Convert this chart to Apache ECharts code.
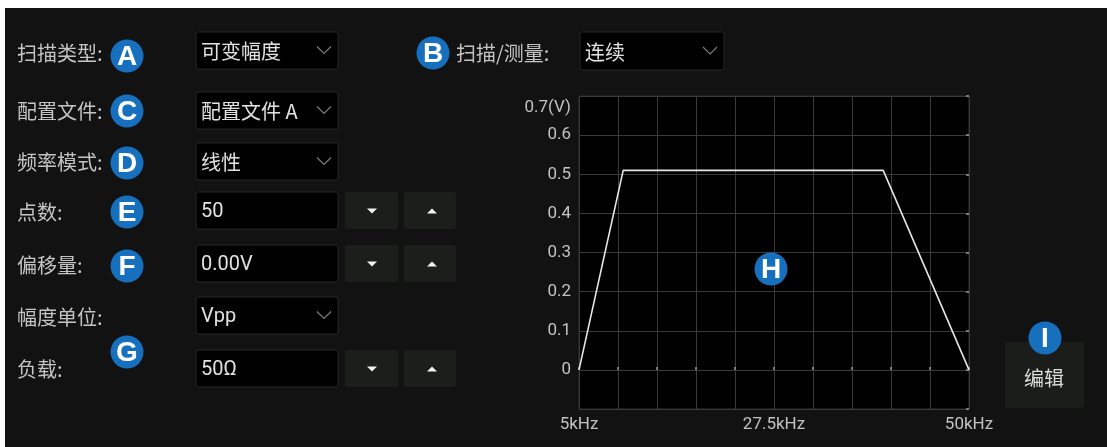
<!DOCTYPE html>
<html>
<head>
<meta charset="utf-8">
<script src="https://cdn.jsdelivr.net/npm/echarts@6/dist/echarts.min.js"></script>
<style>
html,body{margin:0;padding:0;background:#ffffff;}
#c{width:1107px;height:447px;}
</style>
</head>
<body>
<div id="c"></div>
<script>
// ---- chart data ----
const freqKHz   = [5, 10.1, 40.1, 50];
const amplitude = [0, 0.51, 0.51, 0];
const xTickValues = [5, 27.5, 50];
const xTickLabels = ['5kHz', '27.5kHz', '50kHz'];
const yTickLabels = ['0', '0.1', '0.2', '0.3', '0.4', '0.5', '0.6', '0.7(V)'];

// ---- UI texts ----
const formLabels = ['扫描类型:', '配置文件:', '频率模式:', '点数:', '偏移量:', '幅度单位:', '负载:'];
const formValues = ['可变幅度', '配置文件 A', '线性', '50', '0.00V', 'Vpp', '50Ω'];
const sweepLabel = '扫描/测量:';
const sweepValue = '连续';
const editLabel = '编辑';
const markerLetters = ['A', 'B', 'C', 'D', 'E', 'F', 'G', 'H', 'I'];

const CJK = '"Noto Sans CJK SC", "Noto Sans", sans-serif';
const LAT = 'Roboto, "Noto Sans CJK SC", sans-serif';

const chart = echarts.init(document.getElementById('c'), null, {renderer: 'canvas'});

const g = [];
// panel background
g.push({type: 'rect', z: -10, shape: {x: 5, y: 8, width: 1102, height: 439}, style: {fill: '#121212'}, silent: true});

// rows layout
const labelY = [53, 111, 162, 212, 265, 317, 369];
const boxTop = [32, 92, 143, 192, 245, 297, 350];
const boxH = 37;
const dropdownRows = [0, 1, 2, 5];
const stepperRows = [3, 4, 6];
const latinRows = [3, 4, 5, 6];

formLabels.forEach((t, i) => {
  g.push({type: 'text', x: 17, y: labelY[i], style: {text: t, fill: '#c4c4c4', fontSize: 20, fontFamily: CJK, align: 'left', verticalAlign: 'middle'}});
  const y0 = boxTop[i];
  g.push({type: 'rect', shape: {x: 196, y: y0, width: 142, height: boxH, r: 2}, style: {fill: '#000', stroke: '#262626', lineWidth: 1}});
  g.push({type: 'text', x: 201, y: y0 + boxH / 2 + 1, style: {text: formValues[i], fill: '#e2e2e2', fontSize: 20, fontFamily: latinRows.indexOf(i) >= 0 ? LAT : CJK, align: 'left', verticalAlign: 'middle'}});
  if (dropdownRows.indexOf(i) >= 0) {
    const cy = y0 + boxH / 2;
    g.push({type: 'polyline', shape: {points: [[317, cy - 4], [324, cy + 3], [331, cy - 4]]}, style: {stroke: '#7a7a7a', lineWidth: 1.2, fill: null}});
  }
  if (stepperRows.indexOf(i) >= 0) {
    const cy = y0 + boxH / 2;
    g.push({type: 'rect', shape: {x: 345, y: y0, width: 53, height: boxH, r: 2}, style: {fill: '#1c1e1c'}});
    g.push({type: 'rect', shape: {x: 404, y: y0, width: 52, height: boxH, r: 2}, style: {fill: '#1c1e1c'}});
    g.push({type: 'polygon', shape: {points: [[367, cy - 2], [377, cy - 2], [372, cy + 3]]}, style: {fill: '#f2f2f2'}});
    g.push({type: 'polygon', shape: {points: [[427, cy + 3], [437, cy + 3], [432, cy - 2]]}, style: {fill: '#f2f2f2'}});
  }
});

// sweep/measure
g.push({type: 'text', x: 456, y: 53, style: {text: sweepLabel, fill: '#c4c4c4', fontSize: 20, fontFamily: CJK, align: 'left', verticalAlign: 'middle'}});
g.push({type: 'rect', shape: {x: 580, y: 32, width: 144, height: 38, r: 2}, style: {fill: '#000', stroke: '#262626', lineWidth: 1}});
g.push({type: 'text', x: 585, y: 52, style: {text: sweepValue, fill: '#e2e2e2', fontSize: 20, fontFamily: CJK, align: 'left', verticalAlign: 'middle'}});
g.push({type: 'polyline', shape: {points: [[703, 47], [710, 54], [717, 47]]}, style: {stroke: '#7a7a7a', lineWidth: 1.2, fill: null}});

// edit button
g.push({type: 'rect', shape: {x: 1005, y: 342, width: 79, height: 66, r: 2}, style: {fill: '#1a1d1a'}});
g.push({type: 'text', x: 1044, y: 378, style: {text: editLabel, fill: '#dcdcdc', fontSize: 20, fontFamily: CJK, align: 'center', verticalAlign: 'middle'}});

// markers
const markerPos = [[127, 56], [433, 53], [127, 111], [127, 163], [127, 212], [127, 266], [127, 352], [771, 269], [1045, 338]];
markerLetters.forEach((L, i) => {
  const [cx, cy] = markerPos[i];
  g.push({type: 'circle', z: 100, shape: {cx: cx, cy: cy, r: 16.5}, style: {fill: '#1670bd'}});
  g.push({type: 'text', z: 101, x: cx, y: cy + 1, style: {text: L, fill: '#ffffff', fontSize: 28, fontWeight: 'bold', fontFamily: '"Liberation Sans", Arial, sans-serif', align: 'center', verticalAlign: 'middle'}});
});

const option = {
  backgroundColor: 'transparent',
  animation: false,
  grid: {left: 579, top: 96, right: 138, bottom: 38, show: true, backgroundColor: '#000', borderColor: '#2c2c2c', borderWidth: 1},
  xAxis: {
    type: 'value', min: 5, max: 50, interval: 4.5,
    axisLine: {show: false},
    axisTick: {show: true, inside: true, length: 3, lineStyle: {color: '#9a9a9a', width: 1.5}},
    splitLine: {show: true, lineStyle: {color: '#3a3a3a', width: 1}},
    axisLabel: {
      show: true, margin: 7, color: '#c2c2c2', fontSize: 17, fontFamily: LAT,
      showMinLabel: true, showMaxLabel: true, hideOverlap: false,
      formatter: function (v) {
        for (let k = 0; k < xTickValues.length; k++) if (Math.abs(v - xTickValues[k]) < 1e-6) return xTickLabels[k];
        return '';
      }
    }
  },
  yAxis: [{
    type: 'value', min: -0.1, max: 0.7, interval: 0.1,
    axisLine: {show: false},
    axisTick: {show: false},
    splitLine: {show: true, lineStyle: {color: '#3a3a3a', width: 1}},
    axisLabel: {
      show: true, margin: 8, color: '#c2c2c2', fontSize: 17, fontFamily: LAT,
      showMinLabel: true, showMaxLabel: true,
      formatter: function (v) {
        const k = Math.round(v * 10);
        if (k < 0) return '';
        if (k === yTickLabels.length - 1) return '{top|' + yTickLabels[k] + '}';
        return yTickLabels[k];
      },
      rich: {top: {color: '#c2c2c2', fontSize: 17, fontFamily: LAT, padding: [24, 0, 0, 0]}}
    }
  }, {
    type: 'value', min: -0.1, max: 0.7, interval: 0.1, position: 'right',
    axisLine: {show: false},
    axisTick: {show: true, inside: true, length: 3, lineStyle: {color: '#9a9a9a', width: 1.5}},
    splitLine: {show: false},
    axisLabel: {show: false}
  }],
  series: [{
    type: 'line',
    data: freqKHz.map((x, i) => [x, amplitude[i]]),
    showSymbol: false,
    symbol: 'none',
    lineStyle: {color: '#e6e6e6', width: 1.6},
    z: 5
  }],
  graphic: g
};
chart.setOption(option);
</script>
</body>
</html>
